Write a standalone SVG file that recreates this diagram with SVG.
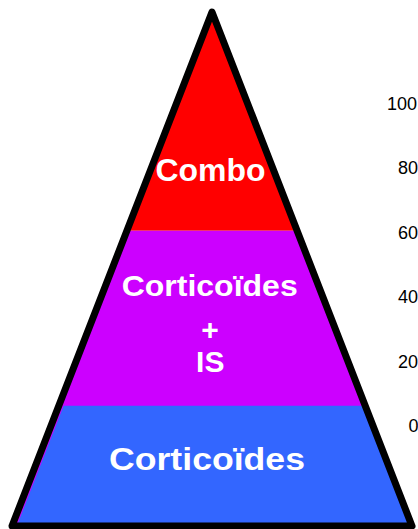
<svg xmlns="http://www.w3.org/2000/svg" width="418" height="529" viewBox="0 0 418 529">
<style>
.lbl{font-family:"Liberation Sans",Arial,Helvetica,sans-serif;font-weight:bold;fill:#ffffff;text-anchor:middle}
.ax{font-family:"Liberation Sans",Arial,Helvetica,sans-serif;font-size:18px;fill:#000000}
.edge{fill:none;stroke:#000000;stroke-width:7;stroke-linejoin:round}
</style>
<rect width="418" height="529" fill="#ffffff"/>
<g id="tier-combo">
<polygon points="212,12 297.1,230.7 126.9,230.7" fill="#ff0000"/>
<text class="lbl" x="210.5" y="180.7" font-size="31" textLength="110" lengthAdjust="spacingAndGlyphs">Combo</text>
</g>
<g id="tier-corticoides-is">
<polygon points="126.9,230.7 297.1,230.7 412,526 12,526" fill="#cc00ff"/>
<text class="lbl" x="209.7" y="296" font-size="30" textLength="176" lengthAdjust="spacingAndGlyphs">Corticoïdes</text>
<text class="lbl" x="210" y="340" font-size="30">+</text>
<text class="lbl" x="210.3" y="371.7" font-size="30">IS</text>
</g>
<g id="tier-corticoides">
<polygon points="63.6,405.7 365.2,405.7 412,526 16.8,526" fill="#3366ff"/>
<text class="lbl" x="207" y="470" font-size="32" textLength="196" lengthAdjust="spacingAndGlyphs">Corticoïdes</text>
</g>
<g id="connectors">
<polygon class="edge" points="212,12 412,526 12,526"/>
</g>
<g id="scale">
<text class="ax" x="387" y="109.5">100</text>
<text class="ax" x="398" y="174">80</text>
<text class="ax" x="398" y="238.5">60</text>
<text class="ax" x="398" y="303">40</text>
<text class="ax" x="398" y="367.5">20</text>
<text class="ax" x="408.5" y="431.5">0</text>
</g>
</svg>
